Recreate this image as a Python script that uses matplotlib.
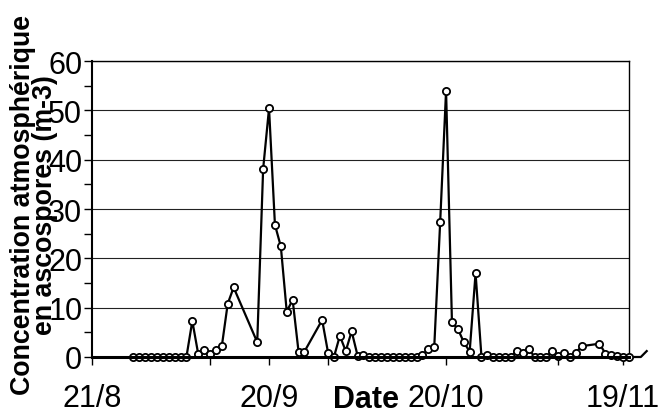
import numpy as np
import matplotlib
matplotlib.use("Agg")
import matplotlib.pyplot as plt

plt.rcParams['font.family'] = ['Liberation Sans', 'DejaVu Sans']

# days counted from 21/8
days = [7, 8, 9, 10, 11, 12, 13, 14, 15, 16,
        17, 18, 19, 20, 21, 22, 23, 24, 28, 29,
        30, 31, 32, 33, 34, 35, 36, 39, 40, 41,
        42, 43, 44, 45, 46, 47, 48, 49, 50, 51,
        52, 53, 54, 55, 56, 57, 58, 59, 60, 61,
        62, 63, 64, 65, 66, 67, 68, 69, 70, 71,
        72, 73, 74, 75, 76, 77, 78, 79, 80, 81,
        82, 83, 86, 87, 88, 89, 90, 91]
conc = [0, 0, 0, 0, 0, 0, 0, 0, 0, 0,
        7.3, 0.6, 1.4, 0.7, 1.4, 2.2, 10.8, 14.1, 3.0, 38.1,
        50.4, 26.8, 22.4, 9.2, 11.6, 1.1, 1.1, 7.5, 0.9, 0,
        4.3, 1.2, 5.2, 0.3, 0.4, 0.1, 0, 0, 0.1, 0.1,
        0, 0, 0, 0, 0.4, 1.6, 2.1, 27.3, 54.0, 7.0,
        5.7, 3.0, 1.1, 17.0, 0, 0.4, 0, 0, 0, 0,
        1.3, 0.8, 1.7, 0, 0, 0, 1.3, 0.2, 0.8, 0,
        0.9, 2.2, 2.7, 0.7, 0.4, 0.3, 0, 0]

# line continues a little past the frame on the right
tail_days = [92, 93, 94]
tail_conc = [0, 0, 1.2]

major_days = [0, 30, 60, 90]
major_labels = ['21/8', '20/9', '20/10', '19/11']
minor_days = [20, 40, 79]

fig = plt.figure(figsize=(6.61, 4.14), dpi=100)
ax = fig.add_axes([92/661, 56/414, 537/661, 296/414])

ax.plot(days + tail_days, conc + tail_conc, color='black', lw=1.6,
        clip_on=False, zorder=3)
ax.plot(days, conc, linestyle='none', marker='o', markersize=5.2,
        markerfacecolor='white', markeredgecolor='black', markeredgewidth=1.3,
        clip_on=False, zorder=4)

ax.set_xlim(0, 91)
ax.set_ylim(0, 60)

ax.set_yticks(np.arange(0, 61, 10))
ax.set_yticks(np.arange(5, 60, 10), minor=True)
ax.yaxis.grid(True, which='major', color='#222222', lw=0.8)
ax.set_axisbelow(True)

ax.set_xticks(major_days)
ax.set_xticklabels(major_labels)
ax.set_xticks(minor_days, minor=True)

ax.tick_params(axis='both', which='both', direction='out', length=6,
               width=1, color='black', labelsize=22)
ax.tick_params(axis='x', which='major', pad=13)
ax.tick_params(axis='y', which='major', pad=1)

ax.spines['bottom'].set_linewidth(2.2)
ax.spines['left'].set_linewidth(1.5)
ax.spines['top'].set_linewidth(1)
ax.spines['right'].set_linewidth(1)
ax.spines['bottom'].set_zorder(5)

fig.text(366/661, 1 - 408/414, 'Date', fontsize=22, fontweight='bold',
         ha='center', va='baseline')
fig.text(34/661, 1 - 205/414,
         'Concentration atmosphérique\nen ascospores (m-3)',
         fontsize=19.3, fontweight='bold', rotation=90, ha='center', va='center',
         multialignment='center', linespacing=0.75)

fig.savefig('out.png', dpi=100)
